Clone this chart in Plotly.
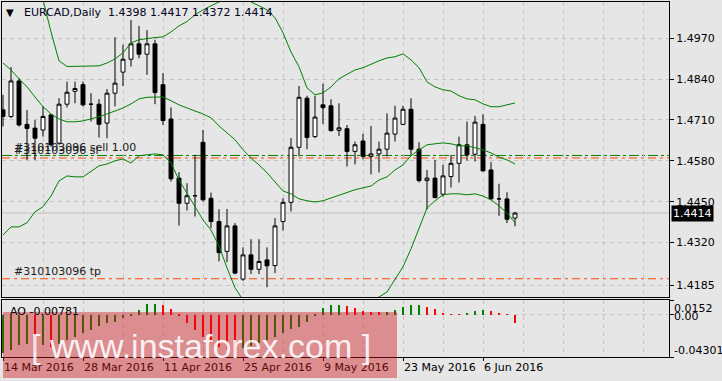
import plotly.graph_objects as go

# ---------------- data ----------------
tick_idx = [0, 10, 20, 30, 40, 50, 60]
tick_labels = ["14 Mar 2016", "28 Mar 2016", "11 Apr 2016", "25 Apr 2016",
               "9 May 2016", "23 May 2016", "6 Jun 2016"]

opens = [1.4742, 1.4721, 1.4834, 1.4696, 1.4684, 1.4678, 1.4726, 1.4636, 1.4760, 1.4801,
         1.4822, 1.4760, 1.4760, 1.4700, 1.4795, 1.4862, 1.4903, 1.4952, 1.4919, 1.4952,
         1.4822, 1.4713, 1.4525, 1.4445, 1.4469, 1.4639, 1.4461, 1.4387, 1.4292, 1.4373,
         1.4204, 1.4281, 1.4235, 1.4265, 1.4247, 1.4387, 1.4448, 1.4623, 1.4779, 1.4657,
         1.4758, 1.4755, 1.4677, 1.4682, 1.4610, 1.4643, 1.4594, 1.4602, 1.4617, 1.4665,
         1.4696, 1.4744, 1.4617, 1.4517, 1.4525, 1.4474, 1.4530, 1.4572, 1.4631, 1.4601,
         1.4696, 1.4551, 1.4459, 1.4459, 1.4398]
highs = [1.4790, 1.4878, 1.4843, 1.4742, 1.4710, 1.4753, 1.4729, 1.4779, 1.4832, 1.4832,
         1.4832, 1.4795, 1.4776, 1.4808, 1.4973, 1.4949, 1.5028, 1.5009, 1.4996, 1.4965,
         1.4859, 1.4750, 1.4544, 1.4509, 1.4599, 1.4678, 1.4479, 1.4426, 1.4427, 1.4382,
         1.4305, 1.4331, 1.4331, 1.4305, 1.4398, 1.4461, 1.4652, 1.4818, 1.4787, 1.4787,
         1.4825, 1.4776, 1.4763, 1.4694, 1.4641, 1.4666, 1.4691, 1.4641, 1.4731, 1.4755,
         1.4755, 1.4779, 1.4639, 1.4551, 1.4583, 1.4567, 1.4599, 1.4657, 1.4705, 1.4723,
         1.4728, 1.4576, 1.4507, 1.4480, 1.4417]
lows = [1.4689, 1.4716, 1.4689, 1.4583, 1.4583, 1.4657, 1.4625, 1.4631, 1.4750, 1.4763,
        1.4753, 1.4705, 1.4654, 1.4652, 1.4753, 1.4818, 1.4880, 1.4906, 1.4853, 1.4760,
        1.4694, 1.4514, 1.4374, 1.4422, 1.4403, 1.4451, 1.4366, 1.4260, 1.4258, 1.4219,
        1.4198, 1.4220, 1.4220, 1.4178, 1.4223, 1.4358, 1.4419, 1.4594, 1.4617, 1.4652,
        1.4697, 1.4673, 1.4659, 1.4562, 1.4569, 1.4585, 1.4537, 1.4543, 1.4594, 1.4641,
        1.4694, 1.4599, 1.4511, 1.4426, 1.4461, 1.4466, 1.4495, 1.4511, 1.4581, 1.4578,
        1.4546, 1.4456, 1.4405, 1.4382, 1.4372]
closes = [1.4721, 1.4834, 1.4694, 1.4683, 1.4652, 1.4721, 1.4631, 1.4760, 1.4798, 1.4810,
          1.4758, 1.4760, 1.4696, 1.4795, 1.4827, 1.4903, 1.4952, 1.4919, 1.4952, 1.4797,
          1.4708, 1.4523, 1.4445, 1.4469, 1.4469, 1.4456, 1.4387, 1.4288, 1.4373, 1.4223,
          1.4281, 1.4235, 1.4260, 1.4246, 1.4373, 1.4448, 1.4623, 1.4782, 1.4654, 1.4719,
          1.4749, 1.4676, 1.4685, 1.4610, 1.4631, 1.4594, 1.4602, 1.4617, 1.4668, 1.4716,
          1.4744, 1.4617, 1.4517, 1.4525, 1.4463, 1.4532, 1.4572, 1.4631, 1.4599, 1.4703,
          1.4548, 1.4459, 1.4459, 1.4394, 1.4414]

bb_upper = [1.5180, 1.5170, 1.5155, 1.5135, 1.5110, 1.5092, 1.4990, 1.4898, 1.4880, 1.4880,
            1.4882, 1.4882, 1.4882, 1.4891, 1.4904, 1.4923, 1.4955, 1.4965, 1.4969, 1.4972,
            1.4974, 1.4990, 1.5009, 1.5023, 1.5044, 1.5060, 1.5073, 1.5085, 1.5101, 1.5107,
            1.5101, 1.5085, 1.5073, 1.5060, 1.5035, 1.4987, 1.4926, 1.4879, 1.4812, 1.4790,
            1.4796, 1.4815, 1.4841, 1.4856, 1.4869, 1.4876, 1.4888, 1.4898, 1.4907, 1.4911,
            1.4920, 1.4901, 1.4876, 1.4831, 1.4815, 1.4806, 1.4802, 1.4787, 1.4777, 1.4774,
            1.4761, 1.4752, 1.4752, 1.4758, 1.4764]
bb_mid = [1.4891, 1.4869, 1.4841, 1.4815, 1.4783, 1.4752, 1.4729, 1.4713, 1.4704, 1.4704,
          1.4707, 1.4713, 1.4720, 1.4729, 1.4739, 1.4748, 1.4761, 1.4777, 1.4782, 1.4783,
          1.4783, 1.4771, 1.4758, 1.4748, 1.4739, 1.4729, 1.4717, 1.4691, 1.4669, 1.4647,
          1.4615, 1.4589, 1.4567, 1.4542, 1.4513, 1.4484, 1.4475, 1.4459, 1.4453, 1.4449,
          1.4453, 1.4462, 1.4472, 1.4481, 1.4488, 1.4494, 1.4500, 1.4519, 1.4529, 1.4551,
          1.4567, 1.4596, 1.4615, 1.4631, 1.4634, 1.4637, 1.4634, 1.4628, 1.4628, 1.4621,
          1.4615, 1.4605, 1.4592, 1.4583, 1.4570]
bb_lower = [1.4344, 1.4370, 1.4370, 1.4383, 1.4418, 1.4434, 1.4468, 1.4516, 1.4532, 1.4529,
            1.4529, 1.4548, 1.4564, 1.4570, 1.4580, 1.4586, 1.4573, 1.4596, 1.4599, 1.4602,
            1.4599, 1.4573, 1.4519, 1.4478, 1.4437, 1.4392, 1.4360, 1.4309, 1.4240, 1.4176,
            1.4138, 1.4110, 1.4090, 1.4075, 1.4065, 1.4060, 1.4060, 1.4062, 1.4068, 1.4075,
            1.4085, 1.4095, 1.4105, 1.4115, 1.4122, 1.4130, 1.4138, 1.4147, 1.4163, 1.4201,
            1.4243, 1.4300, 1.4367, 1.4430, 1.4453, 1.4472, 1.4475, 1.4475, 1.4472, 1.4475,
            1.4468, 1.4456, 1.4437, 1.4414, 1.4383]

ao_values = [-0.0390, -0.0357, -0.0306, -0.0295, -0.0374, -0.0306, -0.0323, -0.0296, -0.0255, -0.0221,
             -0.0187, -0.0153, -0.0112, -0.0085, -0.0068, -0.0034, -0.0010, 0.0051, 0.0110, 0.0114,
             0.0100, 0.0058, -0.0010, -0.0085, -0.0153, -0.0221, -0.0289, -0.0330, -0.0357, -0.0374,
             -0.0340, -0.0316, -0.0289, -0.0255, -0.0221, -0.0187, -0.0146, -0.0119, -0.0068, -0.0010,
             0.0068, 0.0102, 0.0105, 0.0092, 0.0068, 0.0036, 0.0033, 0.0030, 0.0034, 0.0051,
             0.0085, 0.0102, 0.0104, 0.0085, 0.0058, 0.0024, 0.0004, 0.0002, 0.0010, 0.0041,
             0.0051, 0.0044, 0.0017, 0.0007, -0.0078]

price_ticks = [1.4970, 1.4840, 1.4710, 1.4580, 1.4450, 1.4320, 1.4185]
price_tick_text = ["1.4970", "1.4840", "1.4710", "1.4580", "1.4450", "1.4320", "1.4185"]
ao_ticks = [0.0152, 0.0, -0.04301]
ao_tick_text = ["0.0152", "0.00", "-0.04301"]

sell_level = 1.4597
sl_level = 1.4589
tp_level = 1.4205
last_price = 1.4414
order_id = "#310103096"
header = "EURCAD,Daily  1.4398 1.4417 1.4372 1.4414"
ao_label = "AO -0.00781"

# ---------------- styles ----------------
BG = "#e6e6e6"
GRID = "#c4c4c4"
FONT = "DejaVu Sans"
ORANGE = "#ff4500"
GREEN = "#008000"

idx = list(range(len(opens)))
fig = go.Figure()

fig.add_trace(go.Candlestick(
    x=idx, open=opens, high=highs, low=lows, close=closes,
    xaxis="x", yaxis="y",
    increasing=dict(fillcolor="white", line=dict(color="black", width=1)),
    decreasing=dict(fillcolor="black", line=dict(color="black", width=1)),
    whiskerwidth=0, hoverinfo="skip"))

for band in (bb_upper, bb_mid, bb_lower):
    fig.add_trace(go.Scatter(x=idx, y=band, mode="lines", xaxis="x", yaxis="y",
                             line=dict(color=GREEN, width=1), hoverinfo="skip"))

ao_colors = [GREEN] + [GREEN if ao_values[i] > ao_values[i - 1] else "#ff0000"
                       for i in range(1, len(ao_values))]
fig.add_trace(go.Bar(x=idx, y=ao_values, xaxis="x2", yaxis="y2", width=0.15,
                     marker=dict(color=ao_colors, line=dict(width=0)), hoverinfo="skip"))

xr = [-0.125, 83.25]
common_x = dict(range=xr, showline=True, mirror=True, linecolor="black", linewidth=1,
                zeroline=False, showgrid=True, gridcolor=GRID, griddash="4px,4px", gridwidth=1)

fig.update_layout(
    width=722, height=381,
    margin=dict(l=2, r=53, t=2, b=24),
    paper_bgcolor=BG, plot_bgcolor=BG, showlegend=False,
    font=dict(family=FONT, size=11, color="black"),
    bargap=0,
    xaxis=dict(**common_x, anchor="y", domain=[0, 1], tickvals=list(range(0, 85, 5)),
               showticklabels=False, ticks="", rangeslider=dict(visible=False)),
    yaxis=dict(domain=[60 / 355, 1], range=[1.4147, 1.5085], side="right",
               tickvals=price_ticks, ticktext=price_tick_text, ticks="outside", ticklen=4,
               tickcolor="black", showline=True, mirror=True, linecolor="black", linewidth=1,
               zeroline=False, showgrid=True, gridcolor=GRID, griddash="4px,4px",
               tickfont=dict(family=FONT, size=11, color="black")),
    xaxis2=dict(**common_x, anchor="y2", domain=[0, 1], matches="x",
                tickvals=tick_idx, ticktext=tick_labels, ticks="outside", ticklen=3,
                tickcolor="black", ticklabelposition="outside right",
                tickfont=dict(family=FONT, size=11, color="black"),
                minor=dict(tick0=0, dtick=5, showgrid=True, gridcolor=GRID,
                           griddash="4px,4px", ticks="")),
    yaxis2=dict(domain=[0, 57 / 355], range=[-0.04301, 0.0152], side="right",
                tickvals=ao_ticks, showticklabels=False, ticks="outside", ticklen=4,
                tickcolor="black", showline=True, mirror=True, linecolor="black",
                linewidth=1, zeroline=False, showgrid=True, gridcolor=GRID,
                griddash="4px,4px"),
)

shapes = [
    dict(type="line", xref="paper", yref="y", x0=0, x1=1, y0=last_price, y1=last_price,
         line=dict(color="#c0c0c0", width=1), layer="below"),
    dict(type="line", xref="paper", yref="y", x0=0, x1=1, y0=sell_level, y1=sell_level,
         line=dict(color=GREEN, width=1, dash="10px,3px,3px,3px"), layer="below"),
    dict(type="line", xref="paper", yref="y", x0=0, x1=1, y0=sl_level, y1=sl_level,
         line=dict(color=ORANGE, width=1, dash="8px,4px,3px,4px"), layer="below"),
    dict(type="line", xref="paper", yref="y", x0=0, x1=1, y0=tp_level, y1=tp_level,
         line=dict(color=ORANGE, width=1, dash="8px,4px,3px,4px"), layer="below"),
    # watermark box
    dict(type="rect", xref="paper", yref="paper", x0=1 / 667, x1=395 / 667,
         y0=-21 / 355, y1=45 / 355, fillcolor="rgba(205,20,25,0.42)",
         line=dict(width=0), layer="above"),
]
fig.update_layout(shapes=shapes)

px = lambda p: (p - 2) / 667
py = lambda p: (357 - p) / 355

ann = [
    dict(text="▼", x=px(9.5), y=py(13), xanchor="center", yanchor="middle",
         font=dict(size=10, color="black")),
    dict(text=header, x=px(22), y=py(13), xanchor="left", yanchor="middle",
         font=dict(size=11, color="#000020")),
    dict(text=order_id + " sell 1.00", x=px(12), xref="paper", y=sell_level, yref="y",
         xanchor="left", yanchor="bottom", yshift=-1, font=dict(size=11, color="#202020")),
    dict(text=order_id + " sl", x=px(12), xref="paper", y=sl_level, yref="y",
         xanchor="left", yanchor="bottom", yshift=-1, font=dict(size=11, color="#202020")),
    dict(text=order_id + " tp", x=px(12), xref="paper", y=tp_level, yref="y",
         xanchor="left", yanchor="bottom", yshift=-1, font=dict(size=11, color="#202020")),
    dict(text=ao_label, x=px(8), y=py(311), xanchor="left", yanchor="middle",
         font=dict(size=11, color="black")),
    dict(text=ao_tick_text[0], x=1, y=py(308), xanchor="left", yanchor="middle", xshift=3,
         font=dict(size=11, color="black")),
    dict(text=ao_tick_text[1], x=1, y=py(316), xanchor="left", yanchor="middle", xshift=3,
         font=dict(size=11, color="black")),
    dict(text=ao_tick_text[2], x=1, y=py(350), xanchor="left", yanchor="middle", xshift=3,
         font=dict(size=11, color="black")),
    dict(text="1.4414", x=1, xref="paper", y=last_price, yref="y", xanchor="left",
         yanchor="middle", xshift=2, bgcolor="black", borderpad=1,
         font=dict(size=11, color="white")),
    dict(text="[ www.instaforex.com ]", x=px(201), y=py(346), xanchor="center",
         yanchor="middle", font=dict(family="Liberation Sans", size=34,
                                     color="rgba(255,255,255,0.9)")),
]
for a in ann:
    a.setdefault("xref", "paper")
    a.setdefault("yref", "paper")
    a.setdefault("showarrow", False)
fig.update_layout(annotations=ann)

fig.write_html("out.html")
